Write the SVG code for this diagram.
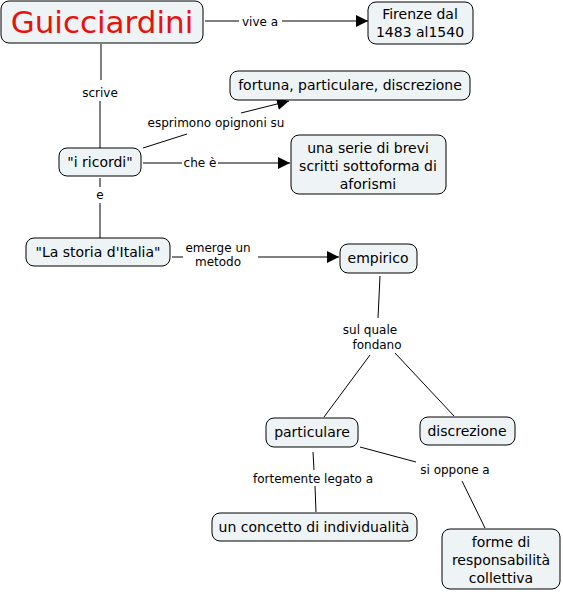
<svg xmlns="http://www.w3.org/2000/svg" width="563" height="592" viewBox="0 0 563 592">
<defs>
<style>
.n{fill:#eef3f5;stroke:#000;stroke-width:1}
.t{font-family:"DejaVu Sans",Verdana,sans-serif;font-size:14px;fill:#000;text-anchor:middle}
.l{font-family:"DejaVu Sans",Verdana,sans-serif;font-size:12px;fill:#000;text-anchor:middle}
.c{stroke:#000;stroke-width:1;fill:none}
</style>
<marker id="a" viewBox="0 0 10 10" refX="10" refY="5" markerWidth="12" markerHeight="12" markerUnits="userSpaceOnUse" orient="auto"><path d="M0,0L10,5L0,10z" fill="#000"/></marker>
</defs>
<rect width="563" height="592" fill="#fff"/>
<g id="connectors">
<path class="c" d="M205,21H239M282,21H368" marker-end="url(#a)"/>
<text class="l" x="260" y="26">vive a</text>
<path class="c" d="M101,44V80M100,101V148"/>
<text class="l" x="100" y="97">scrive</text>
<path class="c" d="M143,148L187,134"/>
<path class="c" d="M241,113L289,101" marker-end="url(#a)"/>
<text class="l" x="216" y="127">esprimono opignoni su</text>
<path class="c" d="M143,163H182"/>
<path class="c" d="M218,163H290" marker-end="url(#a)"/>
<text class="l" x="200" y="167">che è</text>
<path class="c" d="M100,178V187M100,203V238"/>
<text class="l" x="100" y="199">e</text>
<path class="c" d="M172,257H183"/>
<path class="c" d="M258,257H339" marker-end="url(#a)"/>
<text class="l" x="218" y="252">emerge un</text>
<text class="l" x="218" y="266">metodo</text>
<path class="c" d="M380,276L378,318M370,355L324,417M395,353L454,416"/>
<text class="l" x="370" y="334">sul quale</text>
<text class="l" x="377" y="349">fondano</text>
<path class="c" d="M313,452L314,470M315,486L316,512"/>
<text class="l" x="313" y="483">fortemente legato a</text>
<path class="c" d="M360,447L416,462M462,481L485,528"/>
<text class="l" x="455" y="474">si oppone a</text>
</g>
<g id="guicciardini"><rect class="n" x="1" y="1" width="202" height="42" rx="8"/><text class="t" x="102" y="33" style="font-size:31px;fill:#e8120c">Guicciardini</text></g>
<g id="firenze"><rect class="n" x="368" y="2" width="105" height="42" rx="8"/><text class="t" x="420" y="19">Firenze dal</text><text class="t" x="420" y="37">1483 al1540</text></g>
<g id="fortuna"><rect class="n" x="230" y="71" width="240" height="29" rx="8"/><text class="t" x="350" y="90">fortuna, particulare, discrezione</text></g>
<g id="ricordi"><rect class="n" x="59" y="148" width="82" height="28" rx="8"/><text class="t" x="100" y="167">"i ricordi"</text></g>
<g id="serie"><rect class="n" x="291" y="135" width="155" height="59" rx="8"/><text class="t" x="368" y="153">una serie di brevi</text><text class="t" x="368" y="171">scritti sottoforma di</text><text class="t" x="368" y="189">aforismi</text></g>
<g id="storia"><rect class="n" x="26" y="238" width="144" height="28" rx="8"/><text class="t" x="98" y="257">"La storia d'Italia"</text></g>
<g id="empirico"><rect class="n" x="340" y="244" width="77" height="29" rx="8"/><text class="t" x="378" y="263">empirico</text></g>
<g id="particulare"><rect class="n" x="266" y="418" width="92" height="29" rx="8"/><text class="t" x="312" y="437">particulare</text></g>
<g id="discrezione"><rect class="n" x="420" y="417" width="95" height="28" rx="8"/><text class="t" x="467" y="436">discrezione</text></g>
<g id="concetto"><rect class="n" x="212" y="513" width="205" height="28" rx="8"/><text class="t" x="314" y="532">un concetto di individualità</text></g>
<g id="forme"><rect class="n" x="442" y="529" width="118" height="60" rx="8"/><text class="t" x="501" y="547">forme di</text><text class="t" x="501" y="565">responsabilità</text><text class="t" x="501" y="583">collettiva</text></g>
</svg>
